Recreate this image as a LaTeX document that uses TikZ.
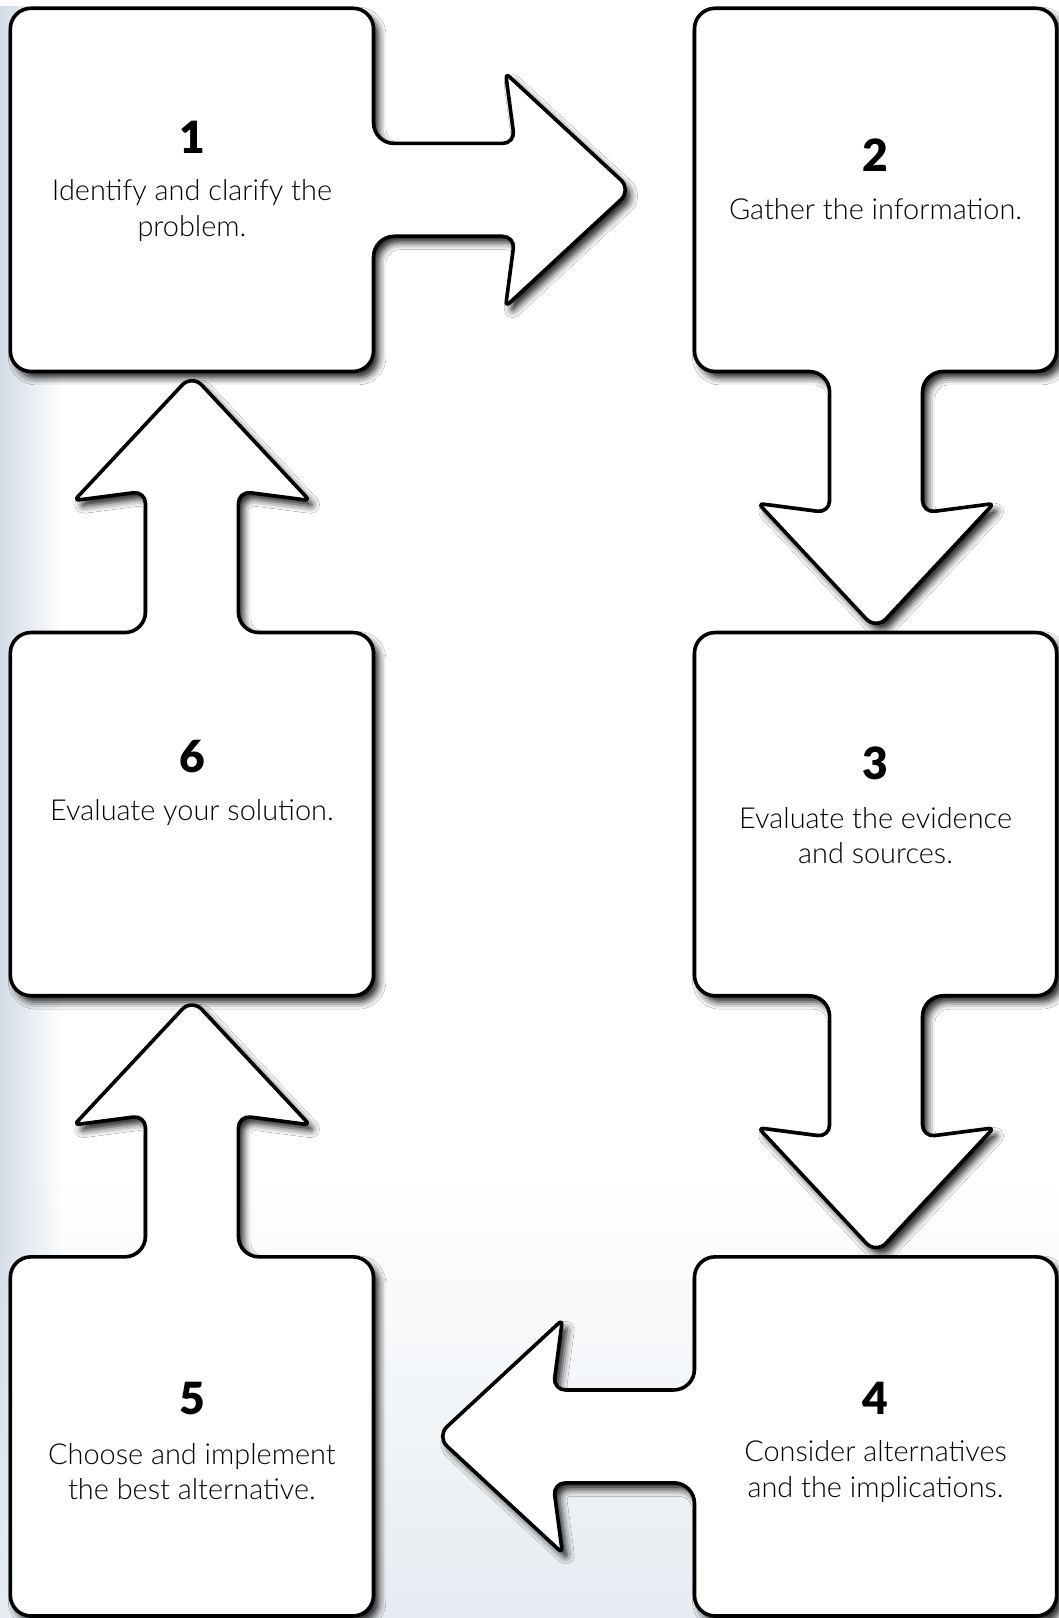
\documentclass[tikz,border=0pt]{standalone}
\usepackage{fontspec}
\newfontfamily\txtfont{Lato Light}
\newfontfamily\numfont{Lato Black}
\usetikzlibrary{shadows.blur,fadings}
\definecolor{bgblue}{HTML}{D3DCE6}
\definecolor{bgblue2}{HTML}{E6ECF2}
\tikzfading[name=fadeleftedge, left color=transparent!0, right color=transparent!100]
\tikzfading[name=fadebottomedge, bottom color=transparent!0, top color=transparent!100]
\tikzset{
  stepshape/.style={draw=black, fill=white, line width=3.5pt, line join=round},
  shadowshape/.style={blur shadow={shadow xshift=5pt, shadow yshift=-6pt, shadow blur radius=7pt, shadow opacity=90}},
  numlabel/.style={font=\numfont\fontsize{43}{43}\selectfont, inner sep=0pt},
  steptext/.style={font=\txtfont\fontsize{28}{34}\selectfont, align=center, inner sep=0pt},
}
\newcommand\shpA{(10,184) [rounded corners=20pt] -- (10,8) -- (362,8) -- (362,139) [rounded corners=12pt] -- (499,139) [rounded corners=5pt] -- (490,71) [rounded corners=14pt] -- (612,184) [rounded corners=5pt] -- (490,297) [rounded corners=12pt] -- (499,229) [rounded corners=20pt] -- (362,229) -- (362,360) -- (10,360) -- cycle}
\newcommand\shpB{(849,8) [rounded corners=20pt] -- (1024,8) -- (1024,360) -- (894,360) [rounded corners=12pt] -- (894,497) [rounded corners=5pt] -- (963,488) [rounded corners=14pt] -- (849,610) [rounded corners=5pt] -- (735,488) [rounded corners=12pt] -- (804,497) [rounded corners=20pt] -- (804,360) -- (673,360) -- (673,8) -- cycle}
\newcommand\shpC{(849,613) [rounded corners=20pt] -- (1024,613) -- (1024,965) -- (894,965) [rounded corners=12pt] -- (894,1102) [rounded corners=5pt] -- (963,1093) [rounded corners=14pt] -- (849,1215) [rounded corners=5pt] -- (735,1093) [rounded corners=12pt] -- (804,1102) [rounded corners=20pt] -- (804,965) -- (673,965) -- (673,613) -- cycle}
\newcommand\shpD{(849,1218) [rounded corners=20pt] -- (1024,1218) -- (1024,1566) -- (673,1566) -- (673,1437) [rounded corners=12pt] -- (536,1437) [rounded corners=5pt] -- (545,1505) [rounded corners=14pt] -- (423,1392) [rounded corners=5pt] -- (545,1279) [rounded corners=12pt] -- (536,1347) [rounded corners=20pt] -- (673,1347) -- (673,1218) -- cycle}
\newcommand\shpE{(10,1392) [rounded corners=20pt] -- (10,1218) -- (141,1218) [rounded corners=12pt] -- (141,1081) [rounded corners=5pt] -- (72,1090) [rounded corners=14pt] -- (186,968) [rounded corners=5pt] -- (300,1090) [rounded corners=12pt] -- (231,1081) [rounded corners=20pt] -- (231,1218) -- (362,1218) -- (362,1566) -- (10,1566) -- cycle}
\newcommand\shpF{(10,789) [rounded corners=20pt] -- (10,613) -- (141,613) [rounded corners=12pt] -- (141,476) [rounded corners=5pt] -- (72,485) [rounded corners=14pt] -- (186,363) [rounded corners=5pt] -- (300,485) [rounded corners=12pt] -- (231,476) [rounded corners=20pt] -- (231,613) -- (362,613) -- (362,965) -- (10,965) -- cycle}
\begin{document}
\begin{tikzpicture}[x=1pt,y=-1pt]
\useasboundingbox (0,0) rectangle (1026,1568);
% background
\fill[white] (0,0) rectangle (1026,1568);
\fill[bgblue, path fading=fadeleftedge] (0,0) rectangle (60,1568);
\fill[bgblue2, path fading=fadebottomedge] (0,1150) rectangle (1026,1568);
% shadows
\path[shadowshape] \shpA;
\path[shadowshape] \shpB;
\path[shadowshape] \shpC;
\path[shadowshape] \shpD;
\path[shadowshape] \shpE;
\path[shadowshape] \shpF;
% shapes
\path[stepshape] \shpA;
\path[stepshape] \shpB;
\path[stepshape] \shpC;
\path[stepshape] \shpD;
\path[stepshape] \shpE;
\path[stepshape] \shpF;
% texts
\node[numlabel] (n1) at (186,133) {1};
\node[steptext] (t1) at (186,204) {Identify and clarify the\\problem.};
\node[numlabel] (n2) at (848.5,150) {2};
\node[steptext] (t2) at (848.5,203) {Gather the information.};
\node[numlabel] (n3) at (848.5,740) {3};
\node[steptext] (t3) at (848.5,810) {Evaluate the evidence\\and sources.};
\node[numlabel] (n4) at (848.5,1355) {4};
\node[steptext] (t4) at (848.5,1426) {Consider alternatives\\and the implications.};
\node[numlabel] (n5) at (186,1355) {5};
\node[steptext] (t5) at (186,1426) {Choose and implement\\the best alternative.};
\node[numlabel] (n6) at (186,733) {6};
\node[steptext] (t6) at (186,787) {Evaluate your solution.};
\end{tikzpicture}
\end{document}
